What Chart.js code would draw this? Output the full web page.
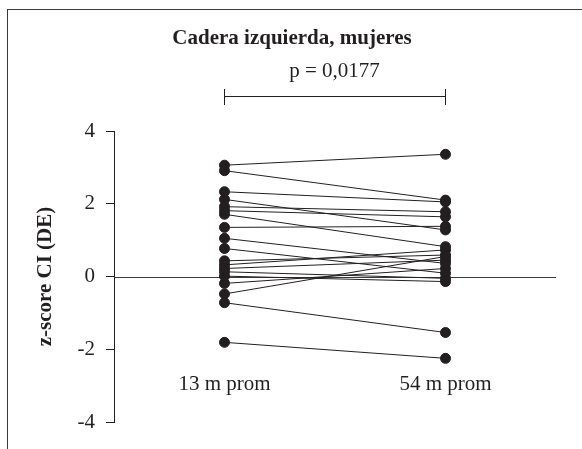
<!DOCTYPE html>
<html>
<head>
<meta charset="utf-8">
<script src="https://cdn.jsdelivr.net/npm/chart.js@4.4.1/dist/chart.umd.min.js"></script>
<style>
  html, body { margin: 0; padding: 0; background: #fff; overflow: hidden; }
  #wrap { position: relative; width: 582px; height: 449px; }
  #marco { position: absolute; left: 7px; top: 9px; width: 600px; height: 460px;
           border-left: 1.5px solid #3a3a3a; border-top: 1.5px solid #3a3a3a; }
  canvas { position: absolute; left: 0; top: 0; }
</style>
</head>
<body>
<div id="wrap">
  <div id="marco"></div>
  <canvas id="grafico" width="582" height="449"></canvas>
</div>
<script>
// Datos (z-score CI, DE)
const categorias = ['13 m prom', '54 m prom'];
const valores13m = [3.06, 2.91, 2.33, 2.12, 1.92, 1.81, 1.71, 1.35, 1.05, 0.77, 0.43, 0.32, 0.22, 0.13, 0.01, -0.19, -0.48, -0.72, -1.81];
const valores54m = [3.36, 2.10, 2.05, 1.28, 1.78, 1.64, 0.82, 1.38, 0.36, 0.09, 0.59, 0.73, 0.45, -0.05, -0.14, 0.22, 0.55, -1.54, -2.25];
const ticksY = [-4, -2, 0, 2, 4];

const tinta = '#231f20';
const serif = '"Liberation Serif", "Times New Roman", serif';

// Un dataset por cada paciente (par de mediciones)
const datasets = valores13m.map((v, i) => ({
    data: [v, valores54m[i]],
    borderColor: tinta,
    borderWidth: 1,
    backgroundColor: tinta,
    pointBackgroundColor: tinta,
    pointBorderColor: tinta,
    pointRadius: 5,
    pointBorderWidth: 1,
    tension: 0
}));

// Título, valor p, corchete, línea de cero y etiquetas de categoría
const anotaciones = {
    id: 'anotaciones',
    afterDraw(chart) {
        const ctx = chart.ctx;
        const x = chart.scales.x;
        const x1 = Math.round(x.getPixelForValue(0)) - 1;
        const x2 = Math.round(x.getPixelForValue(1)) - 1;

        ctx.save();
        ctx.fillStyle = tinta;
        ctx.strokeStyle = tinta;
        ctx.textAlign = 'center';
        ctx.textBaseline = 'alphabetic';

        ctx.font = 'bold 21px ' + serif;
        ctx.fillText('Cadera izquierda, mujeres', 292, 43.5);

        ctx.font = '21px ' + serif;
        ctx.fillText('p = 0,0177', (x1 + x2) / 2, 77);

        // corchete
        ctx.lineWidth = 1;
        ctx.beginPath();
        ctx.moveTo(x1, 96.5); ctx.lineTo(x2, 96.5);
        ctx.moveTo(x1 + 0.5, 89); ctx.lineTo(x1 + 0.5, 105);
        ctx.moveTo(x2 + 0.5, 89); ctx.lineTo(x2 + 0.5, 105);
        ctx.stroke();

        // etiquetas de categorías dentro del área
        ctx.textBaseline = 'middle';
        categorias.forEach((c, i) => {
            ctx.fillText(c, x.getPixelForValue(i), 384);
        });
        ctx.restore();
    },
    beforeDatasetsDraw(chart) {
        const ctx = chart.ctx;
        const y0 = Math.round(chart.scales.y.getPixelForValue(0)) + 0.5;
        const area = chart.chartArea;
        ctx.save();
        ctx.strokeStyle = '#3a3a3a';
        ctx.lineWidth = 1.2;
        ctx.beginPath();
        ctx.moveTo(area.left, y0);
        ctx.lineTo(area.right, y0);
        ctx.stroke();
        ctx.restore();
    }
};

new Chart(document.getElementById('grafico'), {
    type: 'line',
    data: { labels: categorias, datasets: datasets },
    options: {
        responsive: false,
        animation: false,
        layout: { padding: { left: 0, top: 131, right: 26, bottom: 27 } },
        plugins: {
            legend: { display: false },
            tooltip: { enabled: false }
        },
        scales: {
            x: {
                type: 'category',
                offset: true,
                display: false
            },
            y: {
                min: -4,
                max: 4,
                afterBuildTicks(scale) {
                    scale.ticks = ticksY.map(v => ({ value: v }));
                },
                afterFit(scale) { scale.width = 114; },
                border: { display: true, color: tinta, width: 1 },
                grid: { drawOnChartArea: false, drawTicks: true, tickLength: 8, color: tinta, lineWidth: 1 },
                ticks: {
                    color: tinta,
                    padding: 11,
                    font: { family: serif, size: 21 }
                },
                title: {
                    display: true,
                    text: 'z-score CI (DE)',
                    color: tinta,
                    font: { family: serif, size: 21, weight: 'bold' },
                    padding: { top: 33, bottom: 0 }
                }
            }
        }
    },
    plugins: [anotaciones]
});
</script>
</body>
</html>
